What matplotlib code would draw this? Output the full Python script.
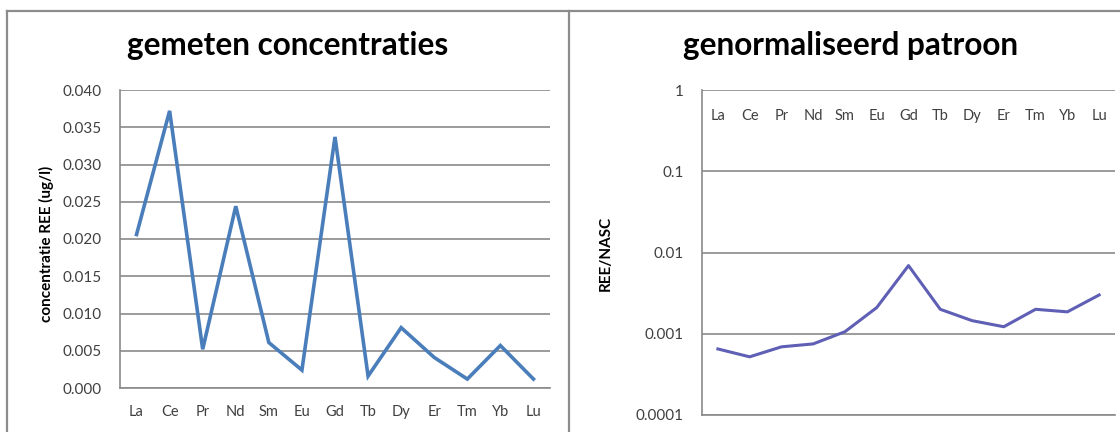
import matplotlib
matplotlib.use("Agg")
import matplotlib.pyplot as plt
from matplotlib.lines import Line2D
from matplotlib.ticker import FixedLocator, NullLocator

plt.rcParams["font.family"] = ["Lato", "DejaVu Sans"]

# data
elements = ["La", "Ce", "Pr", "Nd", "Sm", "Eu", "Gd", "Tb", "Dy", "Er", "Tm", "Yb", "Lu"]
concentration = [0.0206, 0.0372, 0.0052, 0.0244, 0.0061, 0.0024, 0.0337,
                 0.0016, 0.0081, 0.0041, 0.0012, 0.0057, 0.0012]
normalized = [0.00065, 0.00052, 0.00069, 0.00075, 0.00106, 0.0021, 0.0069,
              0.0020, 0.00145, 0.00122, 0.0020, 0.00186, 0.0030]
conc_ticks = [0.000, 0.005, 0.010, 0.015, 0.020, 0.025, 0.030, 0.035, 0.040]
norm_ticks = [0.0001, 0.001, 0.01, 0.1, 1]
norm_labels = ["0.0001", "0.001", "0.01", "0.1", "1"]

W, H = 1120, 432
GRID = "#8a8a8a"
TXT = "#404040"

fig = plt.figure(figsize=(W / 100, H / 100), dpi=100)
fig.patch.set_facecolor("white")


def box(x0, y0, x1, y1):
    return [x0 / W, 1 - y1 / H, (x1 - x0) / W, (y1 - y0) / H]


# panel borders
for xs, ys in [((7, 1120), (11, 11)), ((7, 7), (11, 432)), ((569, 569), (11, 432))]:
    fig.add_artist(Line2D([x / W for x in xs], [1 - y / H for y in ys],
                          color="#8c8c8c", lw=1.6))

# left chart: measured concentrations
ax1 = fig.add_axes(box(120, 90, 550, 388))
x = range(len(elements))
ax1.plot(x, concentration, color="#4A7EBB", lw=2.6, solid_joinstyle="miter")
ax1.set_xlim(-0.5, len(elements) - 0.5)
ax1.set_ylim(0, 0.04)
ax1.set_yticks(conc_ticks)
ax1.set_yticklabels([f"{v:.3f}" for v in conc_ticks])
ax1.set_xticks(list(x))
ax1.set_xticklabels(elements)
ax1.grid(axis="y", color=GRID, lw=1.2)
ax1.set_axisbelow(True)
for s in ["top", "right"]:
    ax1.spines[s].set_visible(False)
for s in ["left", "bottom"]:
    ax1.spines[s].set_color(GRID)
    ax1.spines[s].set_linewidth(1.2)
ax1.tick_params(axis="y", length=0, pad=13, labelsize=11, labelcolor=TXT)
ax1.tick_params(axis="x", length=0, pad=12, labelsize=10.5, labelcolor=TXT)

# right chart: normalised pattern
ax2 = fig.add_axes(box(702, 90, 1115, 415))
ax2.plot(x, normalized, color="#5F5FB5", lw=2.2)
ax2.set_yscale("log")
ax2.set_ylim(1e-4, 1)
ax2.yaxis.set_major_locator(FixedLocator(norm_ticks))
ax2.yaxis.set_minor_locator(NullLocator())
ax2.set_yticklabels(norm_labels)
ax2.set_xlim(-0.5, len(elements) - 0.5)
ax2.set_xticks(list(x))
ax2.set_xticklabels(elements)
ax2.grid(axis="y", color=GRID, lw=1.2)
ax2.set_axisbelow(True)
for s in ["top", "right"]:
    ax2.spines[s].set_visible(False)
for s in ["left", "bottom"]:
    ax2.spines[s].set_color(GRID)
    ax2.spines[s].set_linewidth(1.2)
ax2.tick_params(axis="y", which="both", length=0, pad=13, labelsize=11, labelcolor=TXT)
ax2.tick_params(axis="x", length=0, top=False, bottom=False, labeltop=True,
                labelbottom=False, pad=-24, labelsize=10.5, labelcolor=TXT)

# titles and axis labels
fig.text(288 / W, 1 - 45 / H, "gemeten concentraties", ha="center", va="center",
         fontsize=22.7, fontweight="bold", color="black")
fig.text(851 / W, 1 - 45 / H, "genormaliseerd patroon", ha="center", va="center",
         fontsize=22.7, fontweight="bold", color="black")
fig.text(46 / W, 1 - 244 / H, "concentratie REE (ug/l)", rotation=90, ha="center",
         va="center", fontsize=11, fontweight="bold", color="black")
fig.text(606 / W, 1 - 253 / H, "REE/NASC", rotation=90, ha="center",
         va="center", fontsize=11, fontweight="bold", color="black")

fig.savefig("out.png", dpi=100)
